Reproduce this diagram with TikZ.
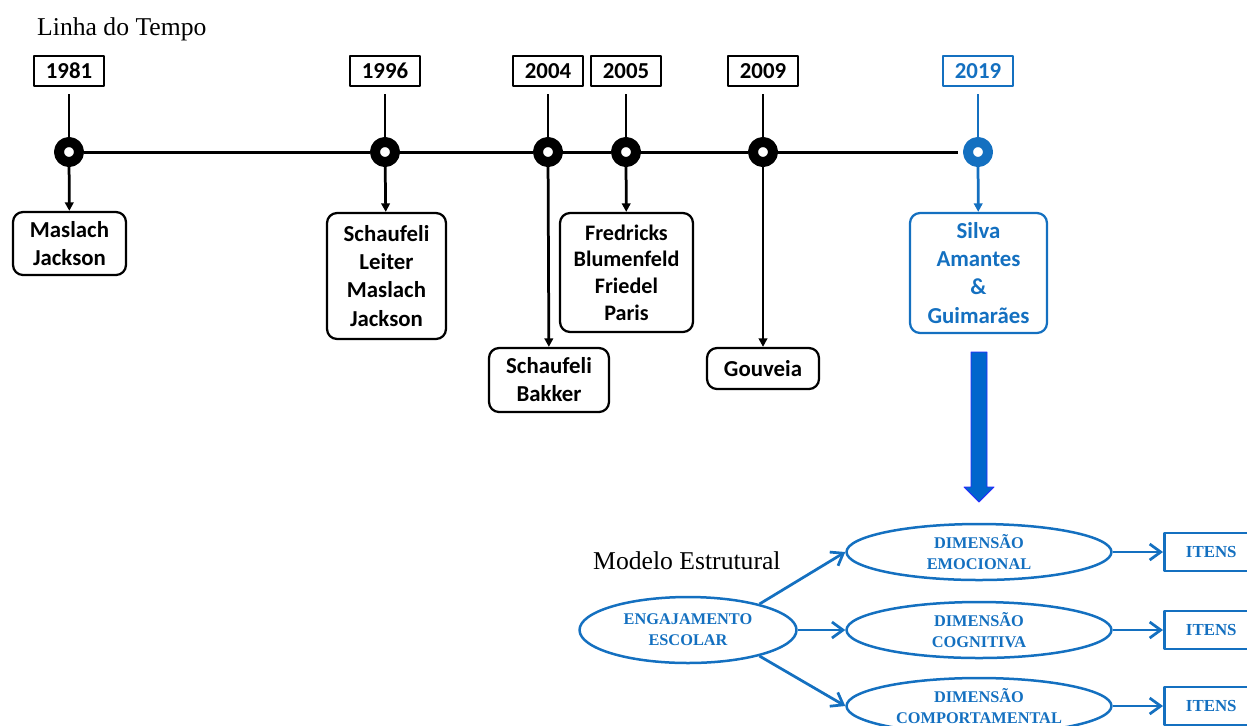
\documentclass[tikz,border=0pt]{standalone}
\usepackage{fontspec}
\setmainfont{Liberation Serif}
\newfontfamily\calib{Carlito}
\usetikzlibrary{arrows.meta,shapes.geometric}
\definecolor{azul}{RGB}{20,112,192}
\definecolor{azulseta}{RGB}{0,102,204}
\definecolor{azulborda}{RGB}{40,40,255}

\tikzset{
  ano/.style={draw,line width=0.045cm,minimum width=1.4cm,minimum height=0.6cm,inner sep=0,
    font=\calib\bfseries\fontsize{13}{15}\selectfont},
  nome/.style={draw,rounded corners=0.2cm,line width=0.045cm,align=center,inner sep=0,
    font=\calib\bfseries\fontsize{13}{16}\selectfont},
  marco/.style={circle,draw=black,fill=white,line width=0.2cm,minimum size=0.4cm,inner sep=0},
  haste/.style={line width=0.055cm,shorten <=0.14cm},
  desce/.style={line width=0.055cm,-{Triangle[length=0.17cm,width=0.17cm]}},
  titulo/.style={font=\fontsize{14.6}{17}\selectfont},
  elipse/.style={ellipse,draw=azul,line width=0.05cm,text=azul,align=center,inner sep=0,
    font=\bfseries\fontsize{9.3}{11.9}\selectfont},
  itens/.style={draw=azul,line width=0.05cm,text=azul,minimum width=1.98cm,minimum height=0.76cm,
    inner sep=0,font=\bfseries\fontsize{9.6}{11}\selectfont},
  seta/.style={draw=azul,line width=0.055cm,-{Straight Barb[length=0.22cm,width=0.32cm]}}
}

\begin{document}
\begin{tikzpicture}[x=0.02cm,y=-0.02cm,line join=round]
      \clip (0,0) rectangle (1247,725);
      % titulos
      \node[titulo,anchor=west] (linha) at (31,29) {Linha do Tempo};
      \node[titulo,anchor=west] (modelo) at (587,561) {Modelo Estrutural};
      % anos
      \node[ano] (a1981) at (69,71) {1981};
      \node[ano] (a1996) at (385,71) {1996};
      \node[ano] (a2004) at (548,71) {2004};
      \node[ano] (a2005) at (626,71) {2005};
      \node[ano] (a2009) at (763,71) {2009};
      \node[ano,draw=azul,text=azul] (a2019) at (978,71) {2019};
      % marcos
      \node[marco] (m1981) at (69,152) {};
      \node[marco] (m1996) at (385,152) {};
      \node[marco] (m2004) at (548,152) {};
      \node[marco] (m2005) at (626,152) {};
      \node[marco] (m2009) at (763,152) {};
      \node[marco,draw=azul] (m2019) at (978,152) {};
      % autores
      \node[nome,minimum width=2.26cm,minimum height=1.26cm] (n1981) at (69.5,243.5) {Maslach\\Jackson};
      \node[nome,minimum width=2.38cm,minimum height=2.52cm] (n1996) at (386.5,276) {Schaufeli\\Leiter\\Maslach\\Jackson};
      \node[nome,minimum width=2.4cm,minimum height=1.28cm] (n2004) at (549,380) {Schaufeli\\Bakker};
      \node[nome,minimum width=2.66cm,minimum height=2.38cm,font=\calib\bfseries\fontsize{12.6}{15.2}\selectfont] (n2005) at (626.5,272.5) {Fredricks\\Blumenfeld\\Friedel\\Paris};
      \node[nome,minimum width=2.24cm,minimum height=0.82cm] (n2009) at (763,368.5) {Gouveia};
      \node[nome,draw=azul,text=azul,minimum width=2.74cm,minimum height=2.4cm] (n2019) at (978.5,273) {Silva\\Amantes\\\&\\Guimarães};
      % linha do tempo
      \draw[line width=0.06cm] (m1981) -- (m1996) -- (m2004) -- (m2005) -- (m2009);
      \draw[line width=0.06cm,shorten >=0.1cm] (m2009) -- (m2019);
      \foreach \a in {1981,1996,2004,2005,2009}{
        \draw[haste] (a\a) -- (m\a);
        \draw[desce] (m\a) -- (n\a);
      }
      \draw[haste,draw=azul] (a2019) -- (m2019);
      \draw[desce,draw=azul,fill=azul] (m2019) -- (n2019);
      % seta grande
      \filldraw[fill=azulseta,draw=azulborda,line width=0.5pt] (971,352) -- (987,352) -- (987,487) -- (994,487) -- (979,502) -- (964,487) -- (971,487) -- cycle;
      % modelo estrutural
      \node[elipse,minimum width=4.34cm,minimum height=1.32cm] (engaj) at (688,630) {ENGAJAMENTO\\ESCOLAR};
      \node[elipse,minimum width=5.3cm,minimum height=1.12cm] (emoc) at (979,552) {DIMENSÃO\\EMOCIONAL};
      \node[elipse,minimum width=5.3cm,minimum height=1.12cm] (cogn) at (979,630) {DIMENSÃO\\COGNITIVA};
      \node[elipse,minimum width=5.3cm,minimum height=1.12cm] (comp) at (979,706) {DIMENSÃO\\COMPORTAMENTAL};
      \node[itens,anchor=west] (i1) at (1163,552) {\hspace*{-0.1cm}ITENS};
      \node[itens,anchor=west] (i2) at (1163,630) {\hspace*{-0.1cm}ITENS};
      \node[itens,anchor=west] (i3) at (1163,706) {\hspace*{-0.1cm}ITENS};
      \draw[seta] (engaj.20) -- (emoc.west);
      \draw[seta] (engaj.east) -- (cogn.west);
      \draw[seta] (engaj.-20) -- (comp.west);
      \draw[seta] (emoc.east) -- (i1.west);
      \draw[seta] (cogn.east) -- (i2.west);
      \draw[seta] (comp.east) -- (i3.west);
\end{tikzpicture}
\end{document}
